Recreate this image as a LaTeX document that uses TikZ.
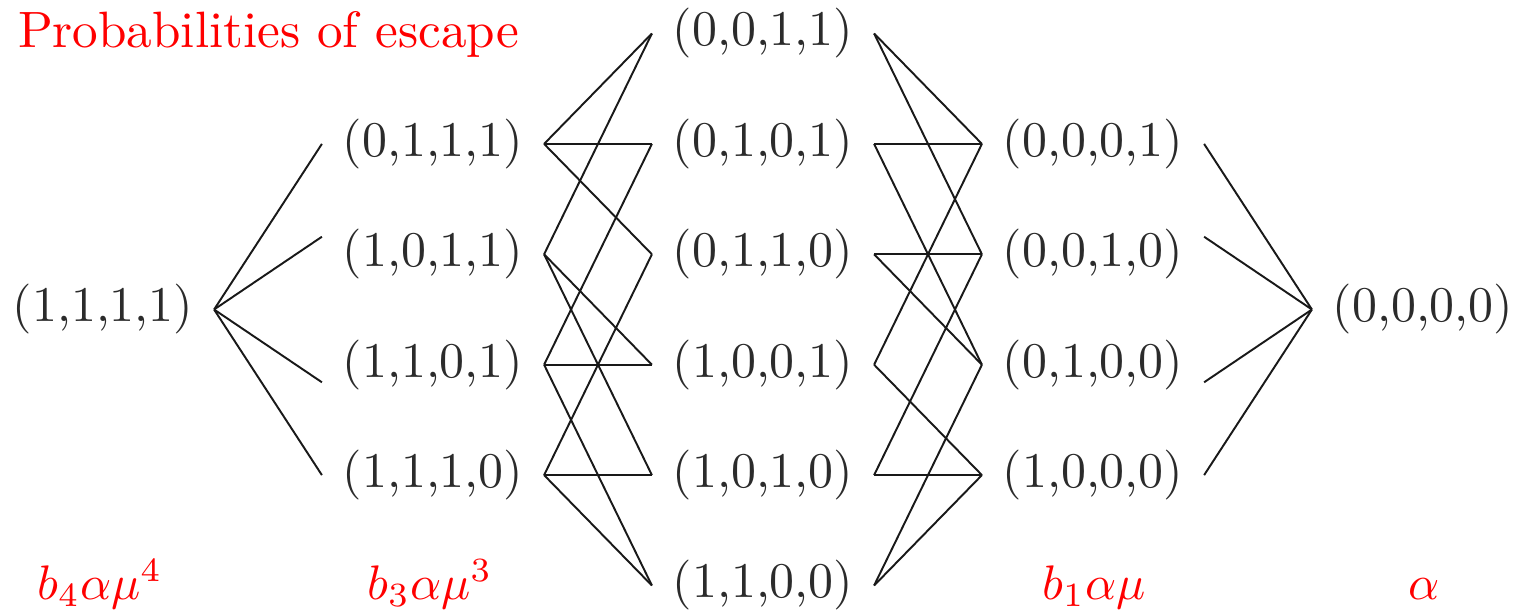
\documentclass[tikz,border=0pt]{standalone}
\usetikzlibrary{positioning}
\definecolor{stategray}{HTML}{2B2B2B}
\definecolor{escred}{HTML}{FF0000}

\begin{document}
\begin{tikzpicture}[
    state/.style={scale=1.42, inner xsep=4pt, inner ysep=2pt, text=stategray},
    prob/.style={scale=1.38, text=escred, inner sep=0pt, anchor=base},
    edge/.style={line width=0.55pt, color=black!90}
  ]
    \useasboundingbox (0,0) rectangle (15.19,6.11);

    % top and bottom of the lattice
    \node[state] (s1111) at (1.03,3.015) {(1,1,1,1)};
    \node[state] (s0000) at (14.23,3.015) {(0,0,0,0)};

    % three ones
    \node[state] (s0111) at (4.33,4.671) {(0,1,1,1)};
    \node[state] (s1011) at (4.33,3.567) {(1,0,1,1)};
    \node[state] (s1101) at (4.33,2.463) {(1,1,0,1)};
    \node[state] (s1110) at (4.33,1.359) {(1,1,1,0)};

    % two ones
    \node[state] (s0011) at (7.63,5.775) {(0,0,1,1)};
    \node[state] (s0101) at (7.63,4.671) {(0,1,0,1)};
    \node[state] (s0110) at (7.63,3.567) {(0,1,1,0)};
    \node[state] (s1001) at (7.63,2.463) {(1,0,0,1)};
    \node[state] (s1010) at (7.63,1.359) {(1,0,1,0)};
    \node[state] (s1100) at (7.63,0.255) {(1,1,0,0)};

    % one one
    \node[state] (s0001) at (10.93,4.671) {(0,0,0,1)};
    \node[state] (s0010) at (10.93,3.567) {(0,0,1,0)};
    \node[state] (s0100) at (10.93,2.463) {(0,1,0,0)};
    \node[state] (s1000) at (10.93,1.359) {(1,0,0,0)};

    % labels
    \node[prob, scale=1.054, anchor=base west] (title) at (0.17,5.64) {Probabilities of escape};
    \node[prob] (p4) at (1.00,0.115) {$b_4\alpha\mu^4$};
    \node[prob] (p3) at (4.30,0.115) {$b_3\alpha\mu^3$};
    \node[prob] (p1) at (10.94,0.115) {$b_1\alpha\mu$};
    \node[prob] (p0) at (14.24,0.115) {$\alpha$};

    % edges
    \draw[edge] (s1111.east) -- (s0111.west);
    \draw[edge] (s1111.east) -- ([yshift=5pt]s1011.west);
    \draw[edge] (s1111.east) -- ([yshift=-5pt]s1101.west);
    \draw[edge] (s1111.east) -- (s1110.west);

    \draw[edge] (s0111.east) -- (s0011.west);
    \draw[edge] (s0111.east) -- (s0101.west);
    \draw[edge] (s0111.east) -- (s0110.west);
    \draw[edge] (s1011.east) -- (s0011.west);
    \draw[edge] (s1011.east) -- (s1001.west);
    \draw[edge] (s1011.east) -- (s1010.west);
    \draw[edge] (s1101.east) -- (s0101.west);
    \draw[edge] (s1101.east) -- (s1001.west);
    \draw[edge] (s1101.east) -- (s1100.west);
    \draw[edge] (s1110.east) -- (s0110.west);
    \draw[edge] (s1110.east) -- (s1010.west);
    \draw[edge] (s1110.east) -- (s1100.west);

    \draw[edge] (s0011.east) -- (s0001.west);
    \draw[edge] (s0011.east) -- (s0010.west);
    \draw[edge] (s0101.east) -- (s0001.west);
    \draw[edge] (s0101.east) -- (s0100.west);
    \draw[edge] (s0110.east) -- (s0010.west);
    \draw[edge] (s0110.east) -- (s0100.west);
    \draw[edge] (s1001.east) -- (s0001.west);
    \draw[edge] (s1001.east) -- (s1000.west);
    \draw[edge] (s1010.east) -- (s0010.west);
    \draw[edge] (s1010.east) -- (s1000.west);
    \draw[edge] (s1100.east) -- (s0100.west);
    \draw[edge] (s1100.east) -- (s1000.west);

    \draw[edge] (s0001.east) -- (s0000.west);
    \draw[edge] ([yshift=5pt]s0010.east) -- (s0000.west);
    \draw[edge] ([yshift=-5pt]s0100.east) -- (s0000.west);
    \draw[edge] (s1000.east) -- (s0000.west);
  \end{tikzpicture}
\end{document}
